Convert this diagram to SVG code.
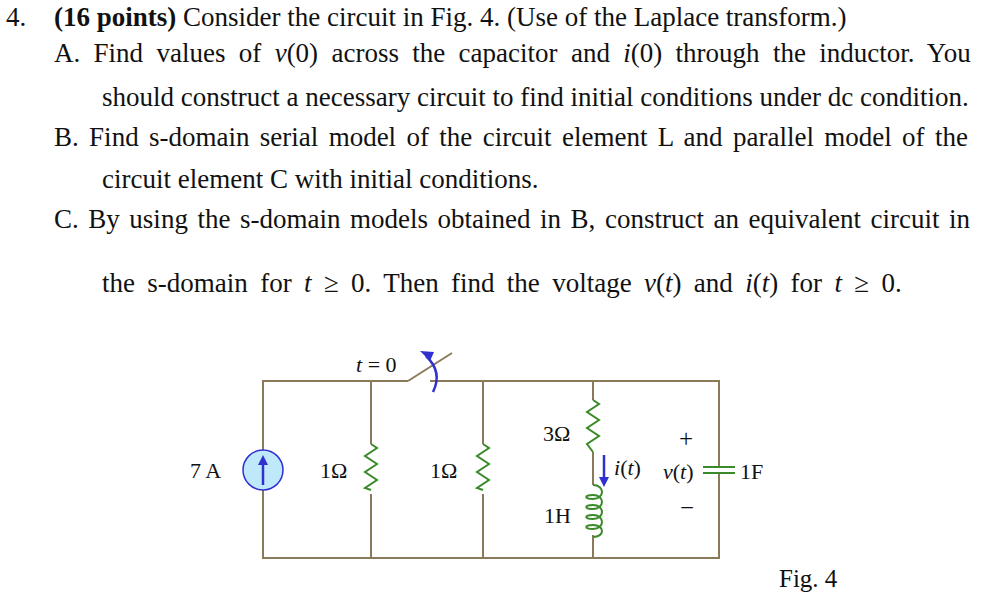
<svg xmlns="http://www.w3.org/2000/svg" width="981" height="598" viewBox="0 0 981 598">
<style>
text{font-family:"Liberation Serif",serif;fill:#111;font-size:27px}
.w{stroke:#8a7a5a;stroke-width:2;fill:none}
.r{stroke:#3a8a2a;stroke-width:2;fill:none}
.c{font-size:22px}
.i{font-style:italic}
</style>
<defs><marker id="ah" viewBox="0 0 10 10" refX="5" refY="5" markerWidth="4" markerHeight="4" orient="auto"><path d="M0,0L10,5L0,10z" fill="#3030d0"/></marker></defs>
<g id="text">
<text x="6" y="26">4.</text>
<text x="54" y="26"><tspan font-weight="bold">(16 points)</tspan> Consider the circuit in Fig. 4. (Use of the Laplace transform.)</text>
<text x="54" y="62" word-spacing="6.6">A. Find values of <tspan class="i">v</tspan>(0) across the capacitor and <tspan class="i">i</tspan>(0) through the inductor. You</text>
<text x="102" y="106">should construct a necessary circuit to find initial conditions under dc condition.</text>
<text x="54" y="146" word-spacing="3.6">B. Find s-domain serial model of the circuit element L and parallel model of the</text>
<text x="102" y="188">circuit element C with initial conditions.</text>
<text x="54" y="228" word-spacing="2.8">C. By using the s-domain models obtained in B, construct an equivalent circuit in</text>
<text x="102" y="292" word-spacing="5.6">the s-domain for <tspan class="i">t</tspan> ≥ 0. Then find the voltage <tspan class="i">v</tspan>(<tspan class="i">t</tspan>) and <tspan class="i">i</tspan>(<tspan class="i">t</tspan>) for <tspan class="i">t</tspan> ≥ 0.</text>
<text x="779" y="587" style="font-size:25px">Fig. 4</text>
</g>
<g id="connectors">
<path class="w" d="M408,381H263V450M263,490V558H719V473M719,467V381H430M371,381V444M371,494V558M483,381V444M483,494V558M593,381V400M593,452V485M593,535V558"/>
<path class="w" d="M408,381L452,353"/>
</g>
<g id="source"><circle cx="263" cy="470" r="20" fill="#bfe8fa" stroke="#3030d0" stroke-width="1.5"/><line x1="263" y1="485" x2="263" y2="460" stroke="#3030d0" stroke-width="2.5" marker-end="url(#ah)"/><text x="190" y="478" class="c">7 A</text></g>
<g id="r1"><path class="r" d="M371,444l6,4l-12,8l12,8l-12,8l12,8l-12,8l6,2"/><text x="320" y="478" class="c">1Ω</text></g>
<g id="r2"><path class="r" d="M483,444l6,4l-12,8l12,8l-12,8l12,8l-12,8l6,2"/><text x="430" y="478" class="c">1Ω</text></g>
<g id="r3"><path class="r" d="M593,400l6,4l-12,8l12,8l-12,8l12,8l-12,8l6,8"/><text x="543" y="441" class="c">3Ω</text></g>
<g id="l1"><path class="r" d="M593,485c12,0 12,14 0,14c-9,0 -9,-4 0,-4c12,0 12,14 0,14c-9,0 -9,-4 0,-4c12,0 12,14 0,14c-9,0 -9,-4 0,-4c12,0 12,14 0,14c-9,0 -9,-4 0,-4c12,0 12,12 0,12"/><text x="544" y="523" class="c">1H</text></g>
<g id="iarrow"><line x1="604" y1="455" x2="604" y2="482" stroke="#3030d0" stroke-width="2.5" marker-end="url(#ah)"/><text x="614" y="475" class="c"><tspan class="i">i</tspan>(<tspan class="i">t</tspan>)</text></g>
<g id="cap"><path d="M703,467H735M703,473H735" stroke="#3a8a2a" stroke-width="2"/><text x="740" y="479" class="c">1F</text><text x="663" y="479" class="c"><tspan class="i">v</tspan>(<tspan class="i">t</tspan>)</text><text x="679" y="447" class="c" style="font-size:25px">+</text><text x="680" y="516" class="c" style="font-size:25px">−</text></g>
<g id="switch"><text x="356" y="372" class="c"><tspan class="i">t</tspan> = 0</text><path d="M433,392q10,-20 -7,-36" stroke="#3030d0" stroke-width="2.5" fill="none"/><path d="M430,361l-10,-10l14,1z" fill="#3030d0"/></g>
</svg>
